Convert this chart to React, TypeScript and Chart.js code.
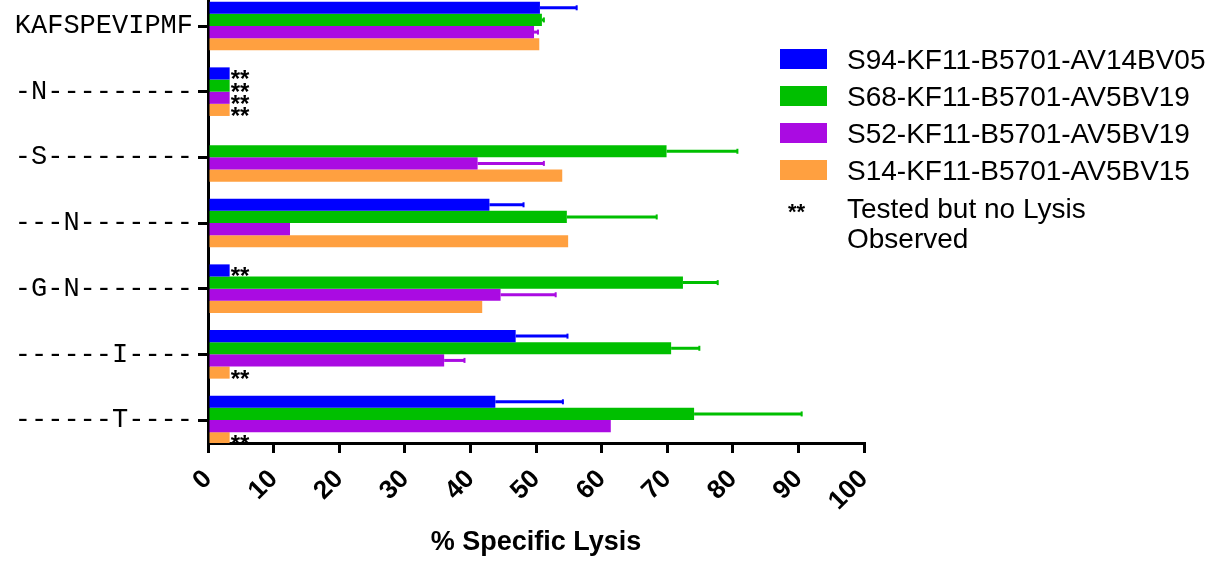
import React, { useEffect, useRef } from "react";
import { Chart, registerables } from "chart.js";

Chart.register(...registerables);

const categories = [
  "KAFSPEVIPMF",
  "-N---------",
  "-S---------",
  "---N-------",
  "-G-N-------",
  "------I----",
  "------T----",
];

const seriesNames = [
  "S94-KF11-B5701-AV14BV05",
  "S68-KF11-B5701-AV5BV19",
  "S52-KF11-B5701-AV5BV19",
  "S14-KF11-B5701-AV5BV15",
];

const seriesColors = ["#0000FF", "#00BF00", "#AA0BE2", "#FFA040"];

// placeholder bar length drawn for "Tested but no Lysis Observed"
const NO_LYSIS_BAR = 3.3;

const s94Values = [50.6, NO_LYSIS_BAR, null, 42.9, NO_LYSIS_BAR, 46.9, 43.8];
const s94Errors = [5.6, 0, 0, 5.2, 0, 7.9, 10.3];
const s94NoLysis = [false, true, false, false, true, false, false];

const s68Values = [50.9, NO_LYSIS_BAR, 69.9, 54.7, 72.4, 70.6, 74.1];
const s68Errors = [0.3, 0, 10.8, 13.7, 5.3, 4.3, 16.4];
const s68NoLysis = [false, true, false, false, false, false, false];

const s52Values = [49.7, NO_LYSIS_BAR, 41.1, 12.5, 44.6, 36.0, 61.4];
const s52Errors = [0.6, 0, 10.1, 0, 8.4, 3.1, 0];
const s52NoLysis = [false, true, false, false, false, false, false];

const s14Values = [50.5, NO_LYSIS_BAR, 54.0, 54.9, 41.8, NO_LYSIS_BAR, NO_LYSIS_BAR];
const s14Errors = [0, 0, 0, 0, 0, 0, 0];
const s14NoLysis = [false, true, false, false, false, true, true];

const xTicks = [0, 10, 20, 30, 40, 50, 60, 70, 80, 90, 100];

const allValues = [s94Values, s68Values, s52Values, s14Values];
const allErrors = [s94Errors, s68Errors, s52Errors, s14Errors];
const allNoLysis = [s94NoLysis, s68NoLysis, s52NoLysis, s14NoLysis];

const noLysisLegend = ["Tested but no Lysis", "Observed"];
const xTitle = "% Specific Lysis";

const SANS = "'Liberation Sans', Arial, sans-serif";
const MONO = "'Liberation Mono', 'Courier New', monospace";

const errorBarPlugin = {
  id: "errorBars",
  afterDatasetsDraw(chart: any) {
    const ctx = chart.ctx;
    const xScale = chart.scales.x;
    chart.data.datasets.forEach((ds: any, di: number) => {
      const meta = chart.getDatasetMeta(di);
      meta.data.forEach((bar: any, j: number) => {
        const pt = ds.data[j];
        const ci = pt.y;
        const err = allErrors[di][ci];
        if (err > 0) {
          const x1 = xScale.getPixelForValue(pt.x + err);
          ctx.save();
          ctx.strokeStyle = seriesColors[di];
          ctx.lineWidth = 3;
          ctx.beginPath();
          ctx.moveTo(bar.x, bar.y);
          ctx.lineTo(x1, bar.y);
          ctx.stroke();
          ctx.lineWidth = 2;
          ctx.beginPath();
          ctx.moveTo(x1, bar.y - 2.5);
          ctx.lineTo(x1, bar.y + 2.5);
          ctx.stroke();
          ctx.restore();
        }
        if (allNoLysis[di][ci]) {
          ctx.save();
          ctx.fillStyle = "#000";
          ctx.font = `bold 24px ${SANS}`;
          ctx.textAlign = "left";
          ctx.textBaseline = "alphabetic";
          ctx.fillText("**", bar.x + 1, bar.y + 14);
          ctx.restore();
        }
      });
    });
  },
};

const legendPlugin = {
  id: "customLegend",
  afterDraw(chart: any) {
    const ctx = chart.ctx;
    ctx.save();
    ctx.textAlign = "left";
    ctx.textBaseline = "alphabetic";
    seriesNames.forEach((name, i) => {
      const y = 49 + 37 * i;
      ctx.fillStyle = seriesColors[i];
      ctx.fillRect(780, y, 47, 20);
      ctx.fillStyle = "#000";
      ctx.font = `28px ${SANS}`;
      ctx.fillText(name, 847, y + 20);
    });
    ctx.font = `bold 22px ${SANS}`;
    ctx.fillText("**", 788, 219);
    ctx.font = `28px ${SANS}`;
    noLysisLegend.forEach((line, k) => {
      ctx.fillText(line, 847, 218 + 29.5 * k);
    });
    ctx.restore();
  },
};

export default function App() {
  const canvasRef = useRef<HTMLCanvasElement | null>(null);

  useEffect(() => {
    document.body.style.margin = "0";
    const canvas = canvasRef.current;
    if (!canvas) return;

    const datasets = seriesNames.map((name, di) => ({
      label: name,
      backgroundColor: seriesColors[di],
      borderWidth: 0,
      data: allValues[di]
        .map((v, i) => (v == null ? null : { x: v, y: i }))
        .filter((p) => p !== null),
    }));

    const chart = new Chart(canvas, {
      type: "bar",
      data: { datasets: datasets as any },
      options: {
        indexAxis: "y",
        responsive: false,
        maintainAspectRatio: false,
        animation: false,
        devicePixelRatio: 1,
        layout: { padding: { left: 0, right: 349, top: 0, bottom: 0 } },
        datasets: {
          bar: { categoryPercentage: 0.74, barPercentage: 1 },
        },
        plugins: {
          legend: { display: false },
          tooltip: { enabled: false },
        },
        scales: {
          x: {
            type: "linear",
            position: "bottom",
            min: 0,
            max: 100,
            offset: false,
            z: 1,
            afterBuildTicks: (s: any) => {
              s.ticks = xTicks.map((v) => ({ value: v }));
            },
            afterFit: (s: any) => {
              s.height = 120;
              s.paddingLeft = 0;
              s.paddingRight = 0;
            },
            ticks: {
              autoSkip: false,
              minRotation: 45,
              maxRotation: 45,
              padding: 11,
              color: "#000",
              font: { family: SANS, size: 26, weight: "bold" },
            },
            grid: {
              display: true,
              offset: false,
              drawOnChartArea: false,
              drawTicks: true,
              tickLength: 10,
              tickWidth: 3,
              tickColor: "#000",
              lineWidth: 3,
              color: "#000",
            },
            border: { display: true, width: 3, color: "#000" },
            title: {
              display: true,
              text: xTitle,
              color: "#000",
              font: { family: SANS, size: 27, weight: "bold" },
              padding: { top: 0, bottom: 4 },
            },
          },
          y: {
            type: "linear",
            position: "left",
            reverse: true,
            offset: false,
            min: -0.396,
            max: 6.35,
            z: 1,
            afterBuildTicks: (s: any) => {
              s.ticks = categories.map((_, i) => ({ value: i }));
            },
            afterFit: (s: any) => {
              s.width = 208;
              s.paddingTop = 0;
              s.paddingBottom = 0;
            },
            ticks: {
              autoSkip: false,
              padding: 5,
              color: "#000",
              font: { family: MONO, size: 27 },
              callback: (v: any) => categories[v as number] ?? "",
            },
            grid: {
              display: true,
              offset: false,
              drawOnChartArea: false,
              drawTicks: true,
              tickLength: 10,
              tickWidth: 3,
              tickColor: "#000",
              lineWidth: 3,
              color: "#000",
            },
            border: { display: true, width: 3, color: "#000" },
          },
        },
      } as any,
      plugins: [errorBarPlugin, legendPlugin],
    });

    return () => chart.destroy();
  }, []);

  return (
    <div style={{ position: "absolute", left: 0, top: 0, width: 1213, height: 563 }}>
      <canvas ref={canvasRef} width={1213} height={563} />
    </div>
  );
}
